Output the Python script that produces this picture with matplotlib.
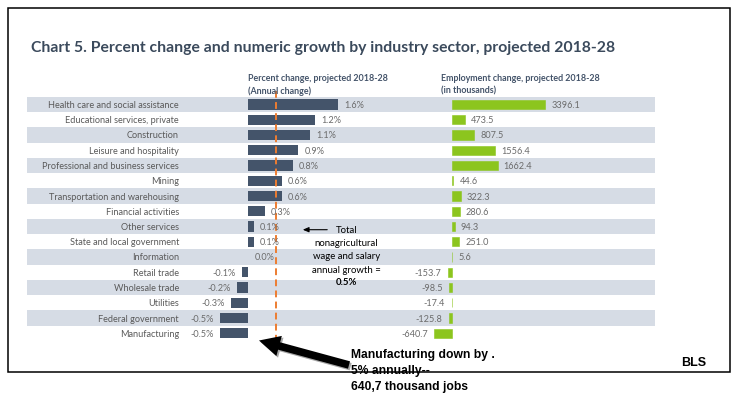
import matplotlib.pyplot as plt
import matplotlib.patheffects as pe
from matplotlib.patches import Rectangle

# Chart data
sectors = [
    'Health care and social assistance',
    'Educational services, private',
    'Construction',
    'Leisure and hospitality',
    'Professional and business services',
    'Mining',
    'Transportation and warehousing',
    'Financial activities',
    'Other services',
    'State and local government',
    'Information',
    'Retail trade',
    'Wholesale trade',
    'Utilities',
    'Federal government',
    'Manufacturing',
]
pct_change = [1.6, 1.2, 1.1, 0.9, 0.8, 0.6, 0.6, 0.3, 0.1, 0.1, 0.0,
              -0.1, -0.2, -0.3, -0.5, -0.5]
emp_change = [3396.1, 473.5, 807.5, 1556.4, 1662.4, 44.6, 322.3, 280.6,
              94.3, 251.0, 5.6, -153.7, -98.5, -17.4, -125.8, -640.7]
total_growth = 0.5

# Layout (pixels, 737x402 canvas)
W, H = 737, 402
Y0, DY = 105.5, 15.25          # first row centre, row pitch
PCT_ZERO, PCT_SCALE = 248, 56.0     # px at 0 %, px per 1 %
EMP_ZERO, EMP_SCALE = 452, 0.02739  # px at 0, px per thousand

DARK = '#44546a'
GREEN = '#8cc51e'
BAND = '#d6dce5'
ORANGE = '#ed7d31'
GRAY = '#595959'
VALUE_GRAY = '#6b6b6b'
BODY = ['Lato', 'DejaVu Sans']
CALLOUT = ['Liberation Sans Narrow', 'Liberation Sans']


def fx(x):
    return x / W


def fy(y):
    return 1 - y / H


fig = plt.figure(figsize=(W / 100, H / 100), dpi=100)

ylim = ((H - Y0) / DY, -Y0 / DY)

ax = fig.add_axes([0, 0, 1, 1])
ax.set_xlim(-PCT_ZERO / PCT_SCALE, (W - PCT_ZERO) / PCT_SCALE)
ax.set_ylim(*ylim)
ax.axis('off')

ax2 = fig.add_axes([0, 0, 1, 1])
ax2.set_xlim(-EMP_ZERO / EMP_SCALE, (W - EMP_ZERO) / EMP_SCALE)
ax2.set_ylim(*ylim)
ax2.patch.set_alpha(0)
ax2.axis('off')

rows = range(len(sectors))

# alternating bands
for i in rows:
    if i % 2 == 0:
        ax.axhspan(i - 0.5, i + 0.5, xmin=fx(27), xmax=fx(655),
                   color=BAND, lw=0, zorder=0)

# percent bars
ax.barh(rows, pct_change, height=0.66, color=DARK, zorder=2)
for i, v in zip(rows, pct_change):
    ha = 'left' if v >= 0 else 'right'
    off = 4.5 if v >= 0 else -4.5
    ax.annotate(f'{v:.1f}%', (v, i), xytext=(off, 0), textcoords='offset points',
                ha=ha, va='center', fontsize=6.6, color=VALUE_GRAY, family=BODY,
                zorder=4)

# employment bars
ax2.barh(rows, emp_change, height=0.62, color=GREEN, edgecolor=GREEN,
         lw=0.4, zorder=2)
for i, v in zip(rows, emp_change):
    ha = 'left' if v >= 0 else 'right'
    off = 4.5 if v >= 0 else -4.5
    ax2.annotate(f'{v:.1f}', (v, i), xytext=(off, 0), textcoords='offset points',
                 ha=ha, va='center', fontsize=6.6, color=VALUE_GRAY, family=BODY)

# category labels
for i, name in zip(rows, sectors):
    ax.text(fx(179), i, name, transform=ax.get_yaxis_transform(),
            ha='right', va='center', fontsize=6.6, color=GRAY, family=BODY)

# total growth line
ax.plot([total_growth, total_growth], [-0.9, len(sectors) - 0.5],
        color=ORANGE, lw=1.4, ls=(0, (3.5, 2.2)), zorder=3)

# headers
fig.text(fx(248), fy(85), 'Percent change, projected 2018-28\n(Annual change)',
         ha='left', va='center', fontsize=6.4, color=DARK, family=BODY,
         weight='bold', linespacing=1.45)
fig.text(fx(441), fy(85), 'Employment change, projected 2018-28\n(in thousands)',
         ha='left', va='center', fontsize=6.4, color=DARK, family=BODY,
         weight='bold', linespacing=1.45)

# title
fig.text(fx(31), fy(48), 'Chart 5. Percent change and numeric growth by industry sector, projected 2018-28',
         ha='left', va='center', fontsize=11.3, color='#3b4a5c', family=BODY,
         weight='bold')

# total growth note
fig.text(fx(336), fy(230.7), 'Total', ha='left', va='center', fontsize=6.9,
         color='black', family=BODY)
note_lines = ['nonagricultural', 'wage and salary', 'annual growth =']
for k, line in enumerate(note_lines):
    fig.text(fx(346.5), fy(243.5 + 13.3 * k), line, ha='center', va='center',
             fontsize=6.9, color='black', family=BODY)
fig.text(fx(346.5), fy(283), f'{total_growth:.1f}%', ha='center', va='center',
         fontsize=6.9, color='black', family=BODY, weight='bold')
ax.annotate('', xy=(fx(300), fy(230.7)), xytext=(fx(330), fy(230.7)),
            xycoords='figure fraction', textcoords='figure fraction',
            arrowprops=dict(arrowstyle='-|>,head_length=0.35,head_width=0.15',
                            color='black', lw=0.8))

# manufacturing callout
shadow = [pe.SimplePatchShadow(offset=(1.2, -1.2), alpha=0.35), pe.Normal()]
ax.annotate('', xy=(fx(259), fy(341.5)), xytext=(fx(349), fy(366)),
            xycoords='figure fraction', textcoords='figure fraction',
            arrowprops=dict(arrowstyle='simple,head_length=1.5,head_width=1.5,tail_width=0.55',
                            color='black', lw=0, path_effects=shadow,
                            shrinkA=0, shrinkB=0),
            zorder=6)
fig.text(fx(351), fy(349), 'Manufacturing down by .\n5% annually--\n640,7 thousand jobs',
         ha='left', va='top', fontsize=8.7, color='black',
         family=CALLOUT, weight='bold', linespacing=1.42)
fig.text(fx(681), fy(363), 'BLS', ha='left', va='center', fontsize=9,
         color='black', family=CALLOUT, weight='bold')

# frame
fig.patches.append(Rectangle((fx(8), fy(373)), fx(730) - fx(8), fy(9) - fy(373),
                             transform=fig.transFigure, fill=False,
                             edgecolor='black', lw=1.1, zorder=1))

fig.savefig('out.png', dpi=100)
